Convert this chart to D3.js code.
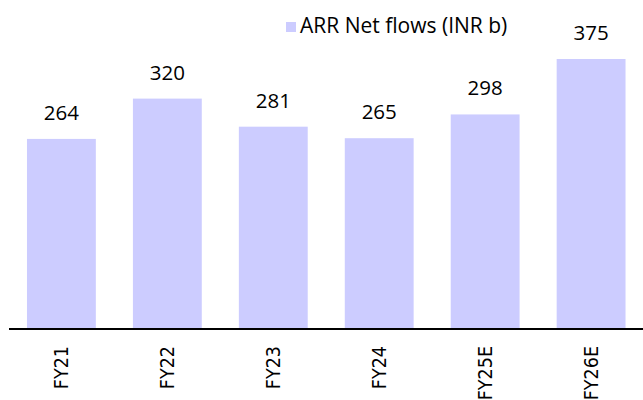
<!DOCTYPE html>
<html><head><meta charset="utf-8">
<script src="https://cdn.jsdelivr.net/npm/d3@7"></script>
<style>body{margin:0;background:#fff}</style>
</head><body>
<svg id="c" width="643" height="400"></svg>
<script>
const categories = ["FY21","FY22","FY23","FY24","FY25E","FY26E"];
const values = [264,320,281,265,298,375];
const seriesName = "ARR Net flows (INR b)";

const svg = d3.select("#c");
const baseline = 329, plotTop = 59;
const x = d3.scaleBand().domain(categories).range([9.5, 643]).paddingInner(0.35).paddingOuter(0.165);
const y = d3.scaleLinear().domain([0, 375]).range([baseline, plotTop]);

svg.selectAll("rect.bar").data(values).join("rect")
  .attr("class","bar")
  .attr("x",(d,i)=>x(categories[i]))
  .attr("width",x.bandwidth())
  .attr("y",d=>y(d))
  .attr("height",d=>baseline-y(d))
  .attr("fill","#ccccff");

svg.selectAll("text.val").data(values).join("text")
  .attr("class","val")
  .attr("x",(d,i)=>x(categories[i])+x.bandwidth()/2)
  .attr("y",d=>y(d)-19)
  .attr("text-anchor","middle")
  .attr("font-family","'Open Sans', sans-serif")
  .attr("font-size",20.5)
  .attr("fill","#000")
  .text(d=>d);

const axis = svg.append("g").attr("transform",`translate(0,${baseline})`)
  .call(d3.axisBottom(x).tickSize(0).tickPadding(0));
axis.select(".domain").attr("stroke","#000").attr("stroke-width",2).attr("d","M9,0H643");
axis.selectAll(".tick text")
  .attr("font-family","'DejaVu Sans Condensed', 'DejaVu Sans', sans-serif")
  .attr("font-stretch","condensed")
  .attr("font-size",19.5)
  .attr("fill","#000")
  .attr("text-anchor","end")
  .attr("dy","0.36em")
  .attr("transform","rotate(-90)")
  .attr("x",-17).attr("y",0);

const lg = svg.append("g");
lg.append("rect").attr("x",286).attr("y",22).attr("width",10).attr("height",10).attr("fill","#ccccff");
lg.append("text").attr("x",300).attr("y",33)
  .attr("font-family","'Open Sans', sans-serif").attr("font-size",21).attr("fill","#000")
  .text(seriesName);
</script>
</body></html>
